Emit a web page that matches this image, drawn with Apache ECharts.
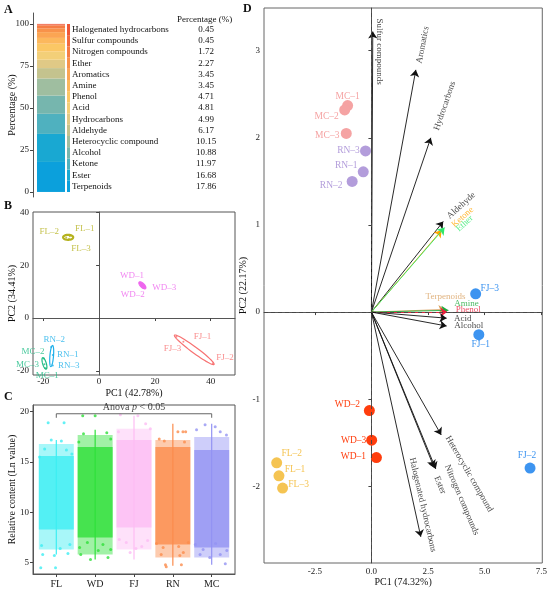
<!DOCTYPE html>
<html>
<head>
<meta charset="utf-8">
<script src="https://cdn.jsdelivr.net/npm/echarts@6/dist/echarts.min.js"></script>
<style>
html, body { margin: 0; padding: 0; background: #fff; }
#main { width: 550px; height: 592px; }
</style>
</head>
<body>
<div id="main"></div>
<script>
// ---------- A : composition (bottom -> top) ----------
var compNames = ['Terpenoids', 'Ester', 'Ketone', 'Alcohol', 'Heterocyclic compound', 'Aldehyde',
    'Hydrocarbons', 'Acid', 'Phenol', 'Amine', 'Aromatics', 'Ether', 'Nitrogen compounds',
    'Sulfur compounds', 'Halogenated hydrocarbons'];
var compPct = [17.86, 16.68, 11.97, 10.88, 10.15, 6.17, 4.99, 4.81, 4.71, 3.45, 3.45, 2.27, 1.72, 0.45, 0.45];
var pctTicks = [0, 25, 50, 75, 100];

// ---------- B : PCA of samples ----------
var groupNames = ['FL', 'WD', 'FJ', 'RN', 'MC'];
var pcaLabels = [['FL–1', 'FL–2', 'FL–3'], ['WD–1', 'WD–2', 'WD–3'], ['FJ–1', 'FJ–2', 'FJ–3'],
    ['RN–1', 'RN–2', 'RN–3'], ['MC–1', 'MC–2', 'MC–3']];
var pcaPC1 = [[-10.5, -11.8, -10.8], [15.0, 15.3, 16.2], [27.7, 40.8, 30.2], [-16.6, -17.2, -16.6], [-19.3, -19.8, -19.6]];
var pcaPC2 = [[31.0, 30.5, 30.0], [13.0, 12.0, 11.7], [-7.1, -17.1, -9.0], [-14.0, -11.0, -18.0], [-19.0, -15.3, -17.5]];
// ellipse: centre x, centre y, half axis u (dx,dy), half axis v (dx,dy)
var pcaEllipses = [[-11.1, 30.6, 1.8, 0, 0, 0.95], [15.5, 12.4, 1.15, -1.21, 0.51, 0.54],
    [34.1, -12.05, 7.1, -5.55, 0.65, 0.91], [-17.0, -14.4, 0.3, 4.0, 0.65, 0], [-19.6, -17.2, 0.63, -2.15, 0.62, 0.2]];
var pcaTicks = [-20, 0, 20, 40];

// ---------- C : relative content ----------
var outerRange = [[6.3, 16.8], [5.8, 17.7], [6.3, 18.3], [5.5, 17.2], [5.5, 17.5]];
var coreRange = [[8.3, 15.6], [7.5, 16.5], [8.5, 17.2], [6.8, 16.5], [6.5, 16.2]];
var lineRange = [[5.8, 17.2], [5.3, 18.2], [5.3, 19.6], [4.7, 18.8], [4.8, 18.8]];
// sparse points: [offset from group centre, value]
var sparseFL = [[-0.21, 18.9], [0.2, 18.9], [-0.40, 4.5], [-0.02, 4.5], [-0.35, 5.8], [-0.05, 5.7], [0.3, 5.9],
    [-0.13, 17.2], [0.13, 17.1], [-0.3, 16.3], [0.26, 16.2], [-0.43, 15.5], [0.4, 15.8], [-0.38, 6.7], [0.35, 6.8], [0.1, 6.4]];
var sparseWD = [[-0.32, 19.6], [0.0, 19.6], [-0.37, 5.8], [-0.12, 5.3], [0.33, 5.5], [0.08, 6.2], [-0.4, 6.5],
    [0.4, 6.3], [0.2, 6.8], [-0.2, 7.0], [-0.3, 17.8], [0.3, 17.9], [0.4, 17.3], [-0.42, 17.0]];
var sparseFJ = [[-0.35, 19.7], [0.1, 19.6], [0.3, 18.8], [-0.4, 18.0], [0.42, 18.3], [-0.1, 6.0], [0.05, 6.4],
    [0.2, 6.6], [-0.2, 7.0], [0.35, 7.2], [-0.38, 7.3]];
var sparseRN = [[0.13, 18.0], [0.26, 18.0], [0.33, 18.0], [-0.35, 17.3], [-0.22, 17.1], [0.3, 17.0], [-0.19, 4.8],
    [-0.17, 4.6], [0.22, 4.8], [-0.3, 5.8], [0.18, 5.7], [0.27, 6.0], [-0.25, 6.5], [0.15, 6.6], [-0.42, 6.9], [0.4, 7.0]];
var sparseMC = [[-0.39, 18.2], [-0.17, 18.7], [0.09, 18.5], [0.22, 18.0], [0.38, 17.7], [0.35, 4.9], [-0.3, 5.8],
    [0.22, 5.8], [-0.22, 6.3], [0.39, 6.2], [-0.05, 5.5], [-0.42, 6.8], [0.1, 6.9]];
var sparsePts = [sparseFL, sparseWD, sparseFJ, sparseRN, sparseMC];
var anovaY = 19.8;
var contentTicks = [5, 10, 15, 20];

// ---------- D : biplot ----------
var bpGroups = ['MC', 'RN', 'FJ', 'WD', 'FL'];
var bpLabels = [['MC–1', 'MC–2', 'MC–3'], ['RN–1', 'RN–2', 'RN–3'], ['FJ–1', 'FJ–2', 'FJ–3'],
    ['WD–1', 'WD–2', 'WD–3'], ['FL–1', 'FL–2', 'FL–3']];
var bpPC1 = [[-1.05, -1.18, -1.11], [-0.36, -0.85, -0.26], [4.74, 7.0, 4.6], [0.22, -0.09, 0.01], [-4.08, -4.18, -3.92]];
var bpPC2 = [[2.37, 2.32, 2.05], [1.61, 1.50, 1.85], [-0.26, -1.79, 0.21], [-1.67, -1.13, -1.47], [-1.88, -1.73, -2.02]];
var loadNames = ['Sulfur compounds', 'Aromatics', 'Hydrocarbons', 'Aldehyde', 'Ketone', 'Ether', 'Terpenoids',
    'Amine', 'Phenol', 'Acid', 'Alcohol', 'Heterocyclic compound', 'Nitrogen compounds', 'Ester', 'Halogenated hydrocarbons'];
var loadPC1 = [0.06, 1.96, 2.62, 3.17, 3.10, 3.23, 3.27, 3.40, 3.35, 3.32, 3.32, 3.08, 2.84, 2.76, 2.18];
var loadPC2 = [3.22, 2.78, 2.00, 1.04, 0.94, 0.97, 0.03, 0.02, 0.00, -0.07, -0.16, -1.41, -1.80, -1.78, -2.58];
var bpXTicks = [-2.5, 0, 2.5, 5, 7.5];
var bpYTicks = [-2, -1, 0, 1, 2, 3];

// ---------- styles ----------
var serif = 'Liberation Serif';
var compColors = ['#0ba0dc', '#19a8d2', '#4fb1bf', '#76b6ae', '#9fbea0', '#c4c38e', '#e0c986', '#f3cf78',
    '#fbc765', '#fcb85d', '#fba553', '#f8924a', '#f57d44', '#f26a3e', '#ee5737'];
var pcaColors = ['#b5b21e', '#ee66ee', '#f77272', '#1eb0ea', '#1cbb84'];
var pcaLabelOff = [[[15, -8], [-17, -6], [12, 10]], [[-9, -8], [-9, 8], [20, 0]], [[26, 0], [12, -5], [-11, 7]],
    [[15, 0], [3, -7], [16, 0]], [[2, 7], [-11, -7], [-17, 0]]];
var contentColors = ['#3deef2', '#2fe03a', '#fdbdf4', '#fb8c4c', '#9393f3'];
var bpColors = ['#f5a3a3', '#b39ddb', '#3d94f0', '#ff3d0d', '#f5c452'];
var bpLabelOff = [[[0, -9], [-18, 7], [-19, 2]], [[-17, -6], [-21, 4], [-17, 0]], [[2, 10], [-3, -13], [14, -5]],
    [[-23, -1], [-22, -6], [-18, 0]], [[16, -6], [15, -9], [16, -4]]];
// label offset (screen pixels from arrow tip to label centre) and rotation
var loadStyle = {
    'Sulfur compounds': { off: [7, 20], rot: -90, color: '#111' },
    'Aromatics': { off: [7, -25], rot: 79, color: '#111' },
    'Hydrocarbons': { off: [14, -32], rot: 71, color: '#111' },
    'Aldehyde': { off: [18, -16], rot: 42, color: '#111' },
    'Ketone': { off: [21, -13], rot: 42, color: '#ffa500' },
    'Ether': { off: [20, -4], rot: 42, color: '#2ee86a' },
    'Terpenoids': { off: [0, -13], rot: 0, color: '#d9a060' },
    'Amine': { off: [18, -7], rot: 0, color: '#1faa3c' },
    'Phenol': { off: [21, -2], rot: 0, color: '#e8203c' },
    'Acid': { off: [16, 0], rot: 0, color: '#111' },
    'Alcohol': { off: [22, 0], rot: 0, color: '#111' },
    'Heterocyclic compound': { off: [28, 39], rot: -60, color: '#111' },
    'Nitrogen compounds': { off: [26, 31], rot: -67, color: '#111' },
    'Ester': { off: [6, 18], rot: -67, color: '#111' },
    'Halogenated hydrocarbons': { off: [2, -32], rot: -77, color: '#111' }
};

var extend = function (a, b) { for (var k in b) { a[k] = b[k]; } return a; };
var tickLabel = { fontFamily: serif, fontSize: 9, color: '#222' };
var nameStyle = { fontFamily: serif, fontSize: 10, color: '#111' };

// label offsets are applied in the rotated frame, so turn the screen offset back
var localOffset = function (off, rot) {
    var r = rot * Math.PI / 180;
    return [off[0] * Math.cos(r) - off[1] * Math.sin(r), off[0] * Math.sin(r) + off[1] * Math.cos(r)];
};

var valAxis = function (grid, min, max, ticks, fmt, extra) {
    var ax = {
        type: 'value', gridIndex: grid, min: min, max: max,
        splitLine: { show: false },
        axisLine: { show: true, lineStyle: { color: '#555', width: 1 } },
        axisTick: { show: true, length: 3, customValues: ticks, lineStyle: { color: '#444' } },
        axisLabel: extend({ customValues: ticks, margin: 4, formatter: fmt }, tickLabel),
        nameTextStyle: nameStyle,
        nameMoveOverlap: false
    };
    return extend(ax, extra || {});
};

var chart = echarts.init(document.getElementById('main'));
var series = [];

// A: stacked composition bar
compNames.forEach(function (n, i) {
    series.push({
        type: 'bar', name: n, stack: 'all', xAxisIndex: 0, yAxisIndex: 0,
        barWidth: '100%', data: [compPct[i]], itemStyle: { color: compColors[i] }, silent: true
    });
});
// A: colour strip with labels
series.push({
    type: 'bar', xAxisIndex: 1, yAxisIndex: 1, barWidth: '100%', silent: true,
    data: compNames.map(function (n, i) { return { value: 1, itemStyle: { color: compColors[i] } }; })
});

// B: ellipses
var renderEllipse = function (params, api) {
    var cx = api.value(0), cy = api.value(1);
    var c = api.coord([cx, cy]);
    var pu = api.coord([cx + api.value(2), cy + api.value(3)]);
    var pv = api.coord([cx + api.value(4), cy + api.value(5)]);
    var ux = pu[0] - c[0], uy = pu[1] - c[1], vx = pv[0] - c[0], vy = pv[1] - c[1];
    var pts = [];
    for (var k = 0; k < 60; k++) {
        var t = k / 60 * Math.PI * 2;
        pts.push([c[0] + Math.cos(t) * ux + Math.sin(t) * vx, c[1] + Math.cos(t) * uy + Math.sin(t) * vy]);
    }
    var col = pcaColors[params.dataIndex];
    return {
        type: 'polygon', shape: { points: pts },
        style: { fill: params.dataIndex === 1 ? col : 'rgba(255,255,255,0)', stroke: col, lineWidth: params.dataIndex === 0 ? 2.2 : 1.2 }
    };
};
series.push({
    type: 'custom', xAxisIndex: 2, yAxisIndex: 2, renderItem: renderEllipse, silent: true,
    encode: { x: 0, y: 1 }, data: pcaEllipses, z: 2
});
groupNames.forEach(function (g, gi) {
    series.push({
        type: 'scatter', xAxisIndex: 2, yAxisIndex: 2, symbolSize: 2, silent: true, z: 4,
        itemStyle: { color: pcaColors[gi] },
        data: pcaPC1[gi].map(function (x, k) {
            return {
                value: [x, pcaPC2[gi][k]],
                label: { show: true, position: 'inside', formatter: pcaLabels[gi][k], offset: pcaLabelOff[gi][k],
                    color: pcaColors[gi], fontFamily: serif, fontSize: 9 }
            };
        }),
        markLine: gi === 0 ? {
            silent: true, symbol: ['none', 'none'], label: { show: false },
            lineStyle: { type: [6, 4], color: '#555', width: 1 },
            data: [{ xAxis: 0 }, { yAxis: 0 }]
        } : undefined
    });
});

// C: jitter clouds
var renderBand = function (params, api) {
    var i = params.dataIndex, x = api.value(0), hw = 0.45;
    var col = contentColors[i];
    var o1 = api.coord([x - hw, api.value(2)]), o2 = api.coord([x + hw, api.value(1)]);
    var c1 = api.coord([x - hw, api.value(4)]), c2 = api.coord([x + hw, api.value(3)]);
    var l1 = api.coord([x, api.value(6)]), l2 = api.coord([x, api.value(5)]);
    return {
        type: 'group', children: [
            { type: 'rect', shape: { x: o1[0], y: o1[1], width: o2[0] - o1[0], height: o2[1] - o1[1] }, style: { fill: col, opacity: 0.45 } },
            { type: 'rect', shape: { x: c1[0], y: c1[1], width: c2[0] - c1[0], height: c2[1] - c1[1] }, style: { fill: col, opacity: 0.8 } },
            { type: 'line', shape: { x1: l1[0], y1: l1[1], x2: l2[0], y2: l2[1] }, style: { stroke: col, lineWidth: 1.2 } }
        ]
    };
};
series.push({
    type: 'custom', xAxisIndex: 3, yAxisIndex: 3, renderItem: renderBand, silent: true,
    encode: { x: 0, y: [1, 2] },
    data: groupNames.map(function (g, i) {
        return [i + 1, outerRange[i][0], outerRange[i][1], coreRange[i][0], coreRange[i][1], lineRange[i][0], lineRange[i][1]];
    })
});
groupNames.forEach(function (g, gi) {
    series.push({
        type: 'scatter', xAxisIndex: 3, yAxisIndex: 3, symbolSize: 3, silent: true,
        itemStyle: { color: contentColors[gi] },
        data: sparsePts[gi].map(function (p) { return [gi + 1 + p[0], p[1]]; })
    });
});
series.push({
    type: 'line', xAxisIndex: 3, yAxisIndex: 3, symbol: 'none', silent: true,
    lineStyle: { color: '#666', width: 1 },
    data: [[1, anovaY - 0.4], [1, anovaY], [groupNames.length, anovaY], [groupNames.length, anovaY - 0.4]]
});
series.push({
    type: 'scatter', xAxisIndex: 3, yAxisIndex: 3, symbolSize: 0, silent: true,
    data: [[(1 + groupNames.length) / 2, anovaY]],
    label: {
        show: true, position: 'top', distance: 1, formatter: 'Anova {i|p} < 0.05',
        fontFamily: serif, fontSize: 10, color: '#111',
        rich: { i: { fontStyle: 'italic', fontFamily: serif, fontSize: 10, color: '#111' } }
    }
});

// D: loading arrows
series.push({
    type: 'lines', coordinateSystem: 'cartesian2d', xAxisIndex: 4, yAxisIndex: 4, silent: true, z: 2,
    symbol: ['none', 'arrow'], symbolSize: 7,
    data: loadNames.map(function (n, i) {
        return { coords: [[0, 0], [loadPC1[i], loadPC2[i]]], lineStyle: { color: loadStyle[n].color, width: 0.9, opacity: 1 } };
    })
});
series.push({
    type: 'scatter', xAxisIndex: 4, yAxisIndex: 4, symbolSize: 0, silent: true, z: 3,
    data: loadNames.map(function (n, i) {
        var s = loadStyle[n];
        return {
            value: [loadPC1[i], loadPC2[i]],
            label: { show: true, position: 'inside', formatter: n, offset: localOffset(s.off, s.rot), rotate: s.rot,
                color: s.color, fontFamily: serif, fontSize: 9 }
        };
    })
});
bpGroups.forEach(function (g, gi) {
    series.push({
        type: 'scatter', xAxisIndex: 4, yAxisIndex: 4, symbolSize: 11, silent: true, z: 4,
        itemStyle: { color: bpColors[gi], opacity: 1 },
        data: bpPC1[gi].map(function (x, k) {
            return {
                value: [x, bpPC2[gi][k]],
                label: { show: true, position: 'inside', formatter: bpLabels[gi][k], offset: bpLabelOff[gi][k],
                    color: bpColors[gi], fontFamily: serif, fontSize: 9.5 }
            };
        }),
        markLine: gi === 0 ? {
            silent: true, symbol: ['none', 'none'], label: { show: false },
            lineStyle: { type: [4, 3], color: '#444', width: 0.9 },
            data: [{ xAxis: 0 }, { yAxis: 0 }]
        } : undefined
    });
});

var letter = function (t, x, y) {
    return { type: 'text', left: x, top: y, style: { text: t, fontFamily: serif, fontSize: 12, fontWeight: 'bold', fill: '#111' } };
};

var option = {
    animation: false,
    backgroundColor: '#fff',
    grid: [
        { left: 37, top: 13, width: 28, height: 184 },
        { left: 67, top: 24, width: 3, height: 168 },
        { left: 33, top: 212, width: 202, height: 163, show: true, borderColor: '#555', borderWidth: 1 },
        { left: 33, top: 405, width: 202, height: 169, show: true, borderColor: '#555', borderWidth: 1 },
        { left: 264, top: 8, width: 280, height: 555, show: true, borderColor: '#666', borderWidth: 1 }
    ],
    xAxis: [
        { type: 'category', gridIndex: 0, data: ['all'], show: false },
        { type: 'value', gridIndex: 1, min: 0, max: 1, show: false },
        valAxis(2, -23.7, 48.7, pcaTicks, null, {
            name: 'PC1 (42.78%)', nameLocation: 'middle', nameGap: 13,
            axisLabel: extend({ customValues: pcaTicks, margin: 2 }, tickLabel)
        }),
        valAxis(3, 0.4, 5.6, [1, 2, 3, 4, 5], null, {
            axisLabel: extend({ customValues: [1, 2, 3, 4, 5], margin: 5, formatter: function (v) { return groupNames[Math.round(v) - 1]; } },
                extend(extend({}, tickLabel), { fontSize: 10 }))
        }),
        valAxis(4, -4.74, 7.54, bpXTicks, function (v) { return v.toFixed(1); },
            { name: 'PC1 (74.32%)', nameLocation: 'middle', nameGap: 14 })
    ],
    yAxis: [
        valAxis(0, -3, 106.5, pctTicks, null, { offset: 4, name: 'Percentage (%)', nameLocation: 'middle', nameGap: 16 }),
        {
            type: 'category', gridIndex: 1, data: compNames, position: 'right',
            axisLine: { show: false }, axisTick: { show: false },
            axisLabel: {
                margin: 2, align: 'left', interval: 0,
                formatter: function (v, idx) { return '{n|' + v + '}{v|' + compPct[idx].toFixed(2) + '}'; },
                rich: {
                    n: { width: 114, align: 'left', fontFamily: serif, fontSize: 9, color: '#111' },
                    v: { width: 40, align: 'center', fontFamily: serif, fontSize: 9, color: '#111' }
                }
            }
        },
        valAxis(2, -21.6, 40.2, pcaTicks, null, { name: 'PC2 (34.41%)', nameLocation: 'middle', nameGap: 16 }),
        valAxis(3, 3.87, 20.67, contentTicks, null, { name: 'Relative content (Ln value)', nameLocation: 'middle', nameGap: 16 }),
        valAxis(4, -2.88, 3.49, bpYTicks, null, { name: 'PC2 (22.17%)', nameLocation: 'middle', nameGap: 16 })
    ],
    graphic: [
        letter('A', 4, 4),
        letter('B', 4, 200),
        letter('C', 4, 391),
        letter('D', 243, 3),
        { type: 'text', left: 177, top: 15, style: { text: 'Percentage (%)', fontFamily: serif, fontSize: 9, fill: '#111' } }
    ],
    series: series
};
chart.setOption(option);
</script>
</body>
</html>
